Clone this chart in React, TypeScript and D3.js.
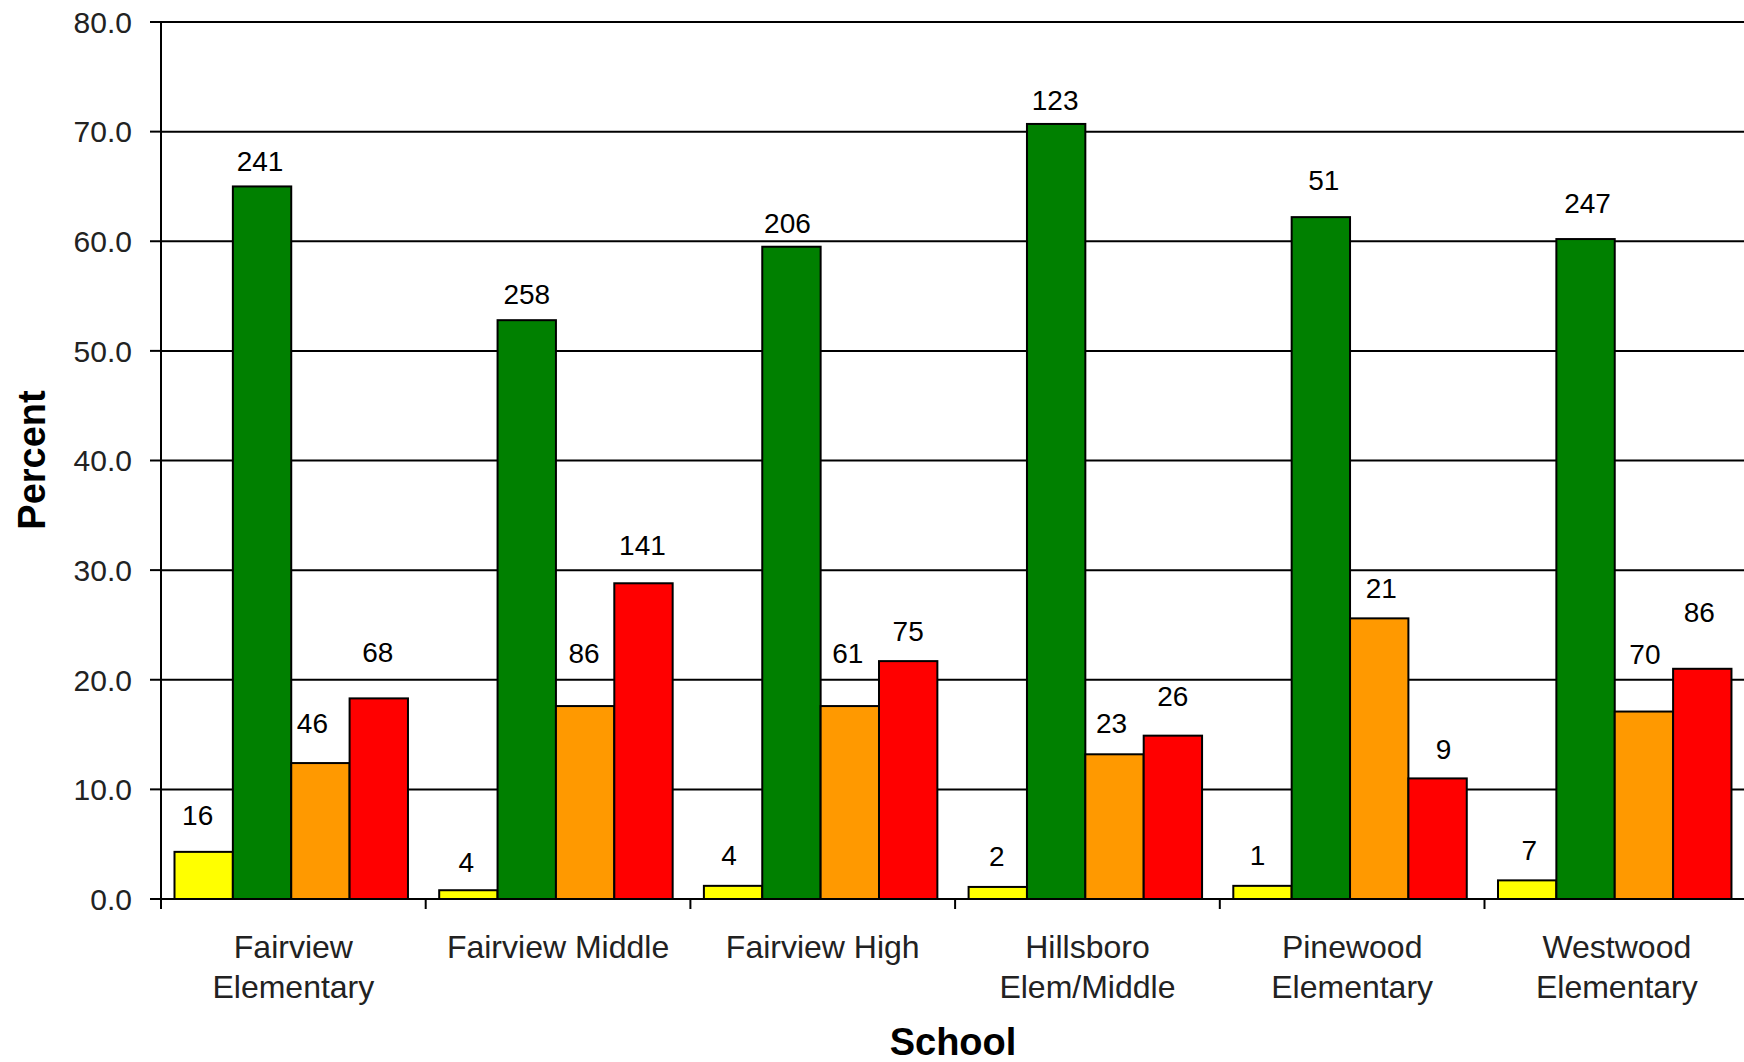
import React from 'react';
import * as d3 from 'd3';

// ---------- data ----------
const schoolNames: string[] = [
  'Fairview Elementary',
  'Fairview Middle',
  'Fairview High',
  'Hillsboro Elem/Middle',
  'Pinewood Elementary',
  'Westwood Elementary',
];
const schoolLabelLines: string[][] = [
  ['Fairview', 'Elementary'],
  ['Fairview Middle'],
  ['Fairview High'],
  ['Hillsboro', 'Elem/Middle'],
  ['Pinewood', 'Elementary'],
  ['Westwood', 'Elementary'],
];
const seriesKeys: string[] = ['Level A', 'Level B', 'Level C', 'Level D'];

// percent values (bar heights)
const pctA: number[] = [4.3, 0.8, 1.2, 1.1, 1.2, 1.7];
const pctB: number[] = [65.0, 52.8, 59.5, 70.7, 62.2, 60.2];
const pctC: number[] = [12.4, 17.6, 17.6, 13.2, 25.6, 17.1];
const pctD: number[] = [18.3, 28.8, 21.7, 14.9, 11.0, 21.0];

// counts shown as data labels
const cntA: number[] = [16, 4, 4, 2, 1, 7];
const cntB: number[] = [241, 258, 206, 123, 51, 247];
const cntC: number[] = [46, 86, 61, 23, 21, 70];
const cntD: number[] = [68, 141, 75, 26, 9, 86];

const yTickValues: number[] = [0, 10, 20, 30, 40, 50, 60, 70, 80];
const xAxisTitle = 'School';
const yAxisTitle = 'Percent';

// ---------- styling / layout ----------
const W = 1744;
const H = 1062;
const colors = ['#FFFF00', '#008000', '#FF9900', '#FF0000'];
// label lift above bar top (px) and horizontal nudge, per series per school
const labelLift: number[][] = [
  [37, 28, 31, 31, 31, 30],
  [26, 26, 24, 24, 37, 36],
  [40, 53, 53, 31, 30, 58],
  [46, 38, 30, 40, 29, 57],
];
const labelNudge: number[][] = [
  [-6, -2, -4, -1, -5, 2],
  [-2, 0, -4, -1, 3, 2],
  [-8, -1, -2, -3, 2, 1],
  [-1, -1, 0, 0, 6, -3],
];
const FONT = '"Liberation Sans", Arial, sans-serif';

export default function App() {
  const pct = [pctA, pctB, pctC, pctD];
  const cnt = [cntA, cntB, cntC, cntD];

  const plotLeft = 161;
  const bandW = 264.7;
  const x = d3
    .scaleBand<string>()
    .domain(schoolNames)
    .range([plotLeft, plotLeft + bandW * schoolNames.length])
    .paddingInner(0)
    .paddingOuter(0);
  const bw = x.bandwidth();
  const xs = d3
    .scaleBand<string>()
    .domain(seriesKeys)
    .range([0.051 * bw, 0.933 * bw])
    .padding(0);
  const y = d3.scaleLinear().domain([0, 80]).range([899, 22]);
  const fmt = d3.format('.1f');

  const baseY = y(0);
  const boundaries = schoolNames.map((s) => x(s) as number).concat([plotLeft + bandW * schoolNames.length]);

  return (
    <div style={{ position: 'fixed', left: 0, top: 0, width: W, height: H, background: '#fff' }}>
      <svg width={W} height={H} viewBox={`0 0 ${W} ${H}`} style={{ display: 'block' }}>
        <rect x={0} y={0} width={W} height={H} fill="#fff" />
        {/* gridlines */}
        {yTickValues.map((v) => (
          <line key={'g' + v} x1={plotLeft} x2={W} y1={y(v)} y2={y(v)} stroke="#000" strokeWidth={2} />
        ))}
        {/* bars */}
        {schoolNames.map((s, i) =>
          seriesKeys.map((k, j) => {
            const v = pct[j][i];
            const bx = (x(s) as number) + (xs(k) as number);
            const by = y(v);
            return (
              <rect
                key={s + k}
                x={bx}
                y={by}
                width={xs.bandwidth()}
                height={baseY - by}
                fill={colors[j]}
                stroke="#000"
                strokeWidth={2}
              />
            );
          })
        )}
        {/* data labels */}
        {schoolNames.map((s, i) =>
          seriesKeys.map((k, j) => {
            const v = pct[j][i];
            const cx = (x(s) as number) + (xs(k) as number) + xs.bandwidth() / 2 + labelNudge[j][i];
            const cy = y(v) - labelLift[j][i];
            return (
              <text
                key={'l' + s + k}
                x={cx}
                y={cy}
                dy="0.36em"
                textAnchor="middle"
                fontFamily={FONT}
                fontSize={28}
                fill="#000"
              >
                {cnt[j][i]}
              </text>
            );
          })
        )}
        {/* y axis */}
        <line x1={plotLeft} x2={plotLeft} y1={y(80)} y2={baseY + 10} stroke="#000" strokeWidth={2} />
        {yTickValues.map((v) => (
          <g key={'t' + v}>
            <line x1={plotLeft - 11} x2={plotLeft} y1={y(v)} y2={y(v)} stroke="#000" strokeWidth={2} />
            <text
              x={plotLeft - 29}
              y={y(v)}
              dy="0.36em"
              textAnchor="end"
              fontFamily={FONT}
              fontSize={30}
              fill="#222"
            >
              {fmt(v)}
            </text>
          </g>
        ))}
        {/* x axis */}
        <line x1={plotLeft} x2={W} y1={baseY} y2={baseY} stroke="#000" strokeWidth={2} />
        {boundaries.map((bxv, i) => (
          <line key={'xt' + i} x1={bxv} x2={bxv} y1={baseY} y2={baseY + 10} stroke="#000" strokeWidth={2} />
        ))}
        {schoolNames.map((s, i) => (
          <text
            key={'c' + s}
            x={(x(s) as number) + bw / 2}
            y={958}
            textAnchor="middle"
            fontFamily={FONT}
            fontSize={32}
            fill="#222"
          >
            {schoolLabelLines[i].map((ln, li) => (
              <tspan key={li} x={(x(s) as number) + bw / 2} dy={li === 0 ? 0 : 40}>
                {ln}
              </tspan>
            ))}
          </text>
        ))}
        {/* axis titles */}
        <text
          x={953}
          y={1055}
          textAnchor="middle"
          fontFamily={FONT}
          fontSize={38}
          fontWeight="bold"
          fill="#000"
        >
          {xAxisTitle}
        </text>
        <text
          transform={`translate(45, 460) rotate(-90)`}
          textAnchor="middle"
          fontFamily={FONT}
          fontSize={38}
          fontWeight="bold"
          fill="#000"
        >
          {yAxisTitle}
        </text>
      </svg>
    </div>
  );
}
